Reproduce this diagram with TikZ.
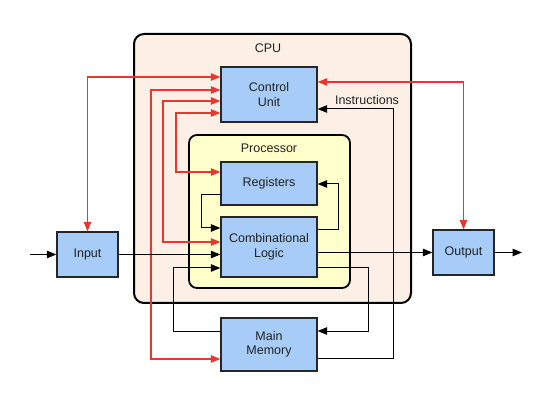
\documentclass[tikz,border=0pt]{standalone}
\usepackage{fontspec}
\setmainfont{Liberation Sans}
\usetikzlibrary{arrows.meta}
\definecolor{cpubg}{HTML}{FCF0E6}
\definecolor{procbg}{HTML}{FFFFCC}
\definecolor{boxbl}{HTML}{A6CCF7}
\definecolor{redl}{HTML}{E8382E}
\definecolor{txt}{HTML}{222222}
\tikzset{
  box/.style={draw=black!85, line width=1.3pt, fill=boxbl, align=center, font=\fontsize{12.5}{14.5}\selectfont, text=txt, inner sep=0pt},
  redc/.style={draw=redl, line width=1.1pt, {Triangle[length=9.5pt,width=7.5pt]}-{Triangle[length=9.5pt,width=7.5pt]}},
  blkc/.style={draw=black, line width=1pt, -{Triangle[length=9.5pt,width=7.5pt]}},
  lbl/.style={font=\fontsize{12.5}{14.5}\selectfont, text=txt}
}
\begin{document}
\begin{tikzpicture}[x=1pt,y=-1pt]
\useasboundingbox (0,0) rectangle (559,419);
\draw[line width=2pt, fill=cpubg, rounded corners=10pt] (134,34) rectangle (411,303);
\node[lbl] (cpul) at (268,48) {CPU};
\draw[line width=1.8pt, fill=procbg, rounded corners=8pt] (189,135) rectangle (350,288);
\node[lbl] (procl) at (269,148) {Processor};

\node[box, minimum width=96pt, minimum height=55pt] (cu) at (269,94.5) {Control\\Unit};
\node[box, minimum width=96pt, minimum height=43pt] (reg) at (269,183.5) {Registers};
\node[box, minimum width=96pt, minimum height=60pt] (cl) at (269,247) {Combinational\\Logic};
\node[box, minimum width=96pt, minimum height=53pt] (mm) at (269,344.5) {Main\\Memory};
\node[box, minimum width=61pt, minimum height=45pt] (inp) at (87.5,254.5) {Input};
\node[box, minimum width=61pt, minimum height=45pt] (out) at (463.5,252.5) {Output};

\coordinate (src) at (30,254.5);
\coordinate (snk) at (522,252.5);

% red control lines
\draw[redc] (inp.north) |- (cu.west |- 0,77);
\draw[redc] (mm.west |- 0,359) -| (151,90) -- (cu.west |- 0,90);
\draw[redc] (cl.west |- 0,242) -| (163,101) -- (cu.west |- 0,101);
\draw[redc] (reg.west |- 0,172) -| (176,113) -- (cu.west |- 0,113);
\draw[redc] (cu.east |- 0,82) -| (out.north);

% black data lines
\draw[blkc] (mm.east |- 0,358) -| (393,109) -- (cu.east |- 0,109);
\node[lbl, anchor=south] (instr) at (367,108) {Instructions};
\draw[blkc] (reg.west |- 0,195) -| (201,228) -- (cl.west |- 0,228);
\draw[blkc] (cl.east |- 0,230) -| (338,184) -- (reg.east |- 0,184);
\draw[blkc] (inp.east) -- (cl.west |- inp.east);
\draw[blkc] (cl.east |- out.west) -- (out.west);
\draw[blkc] (out.east) -- (snk);
\draw[blkc] (src) -- (inp.west);
\draw[blkc] (mm.west |- 0,331) -| (173,268) -- (cl.west |- 0,268);
\draw[blkc] (cl.east |- 0,268) -| (368,331) -- (mm.east |- 0,331);
\end{tikzpicture}
\end{document}
